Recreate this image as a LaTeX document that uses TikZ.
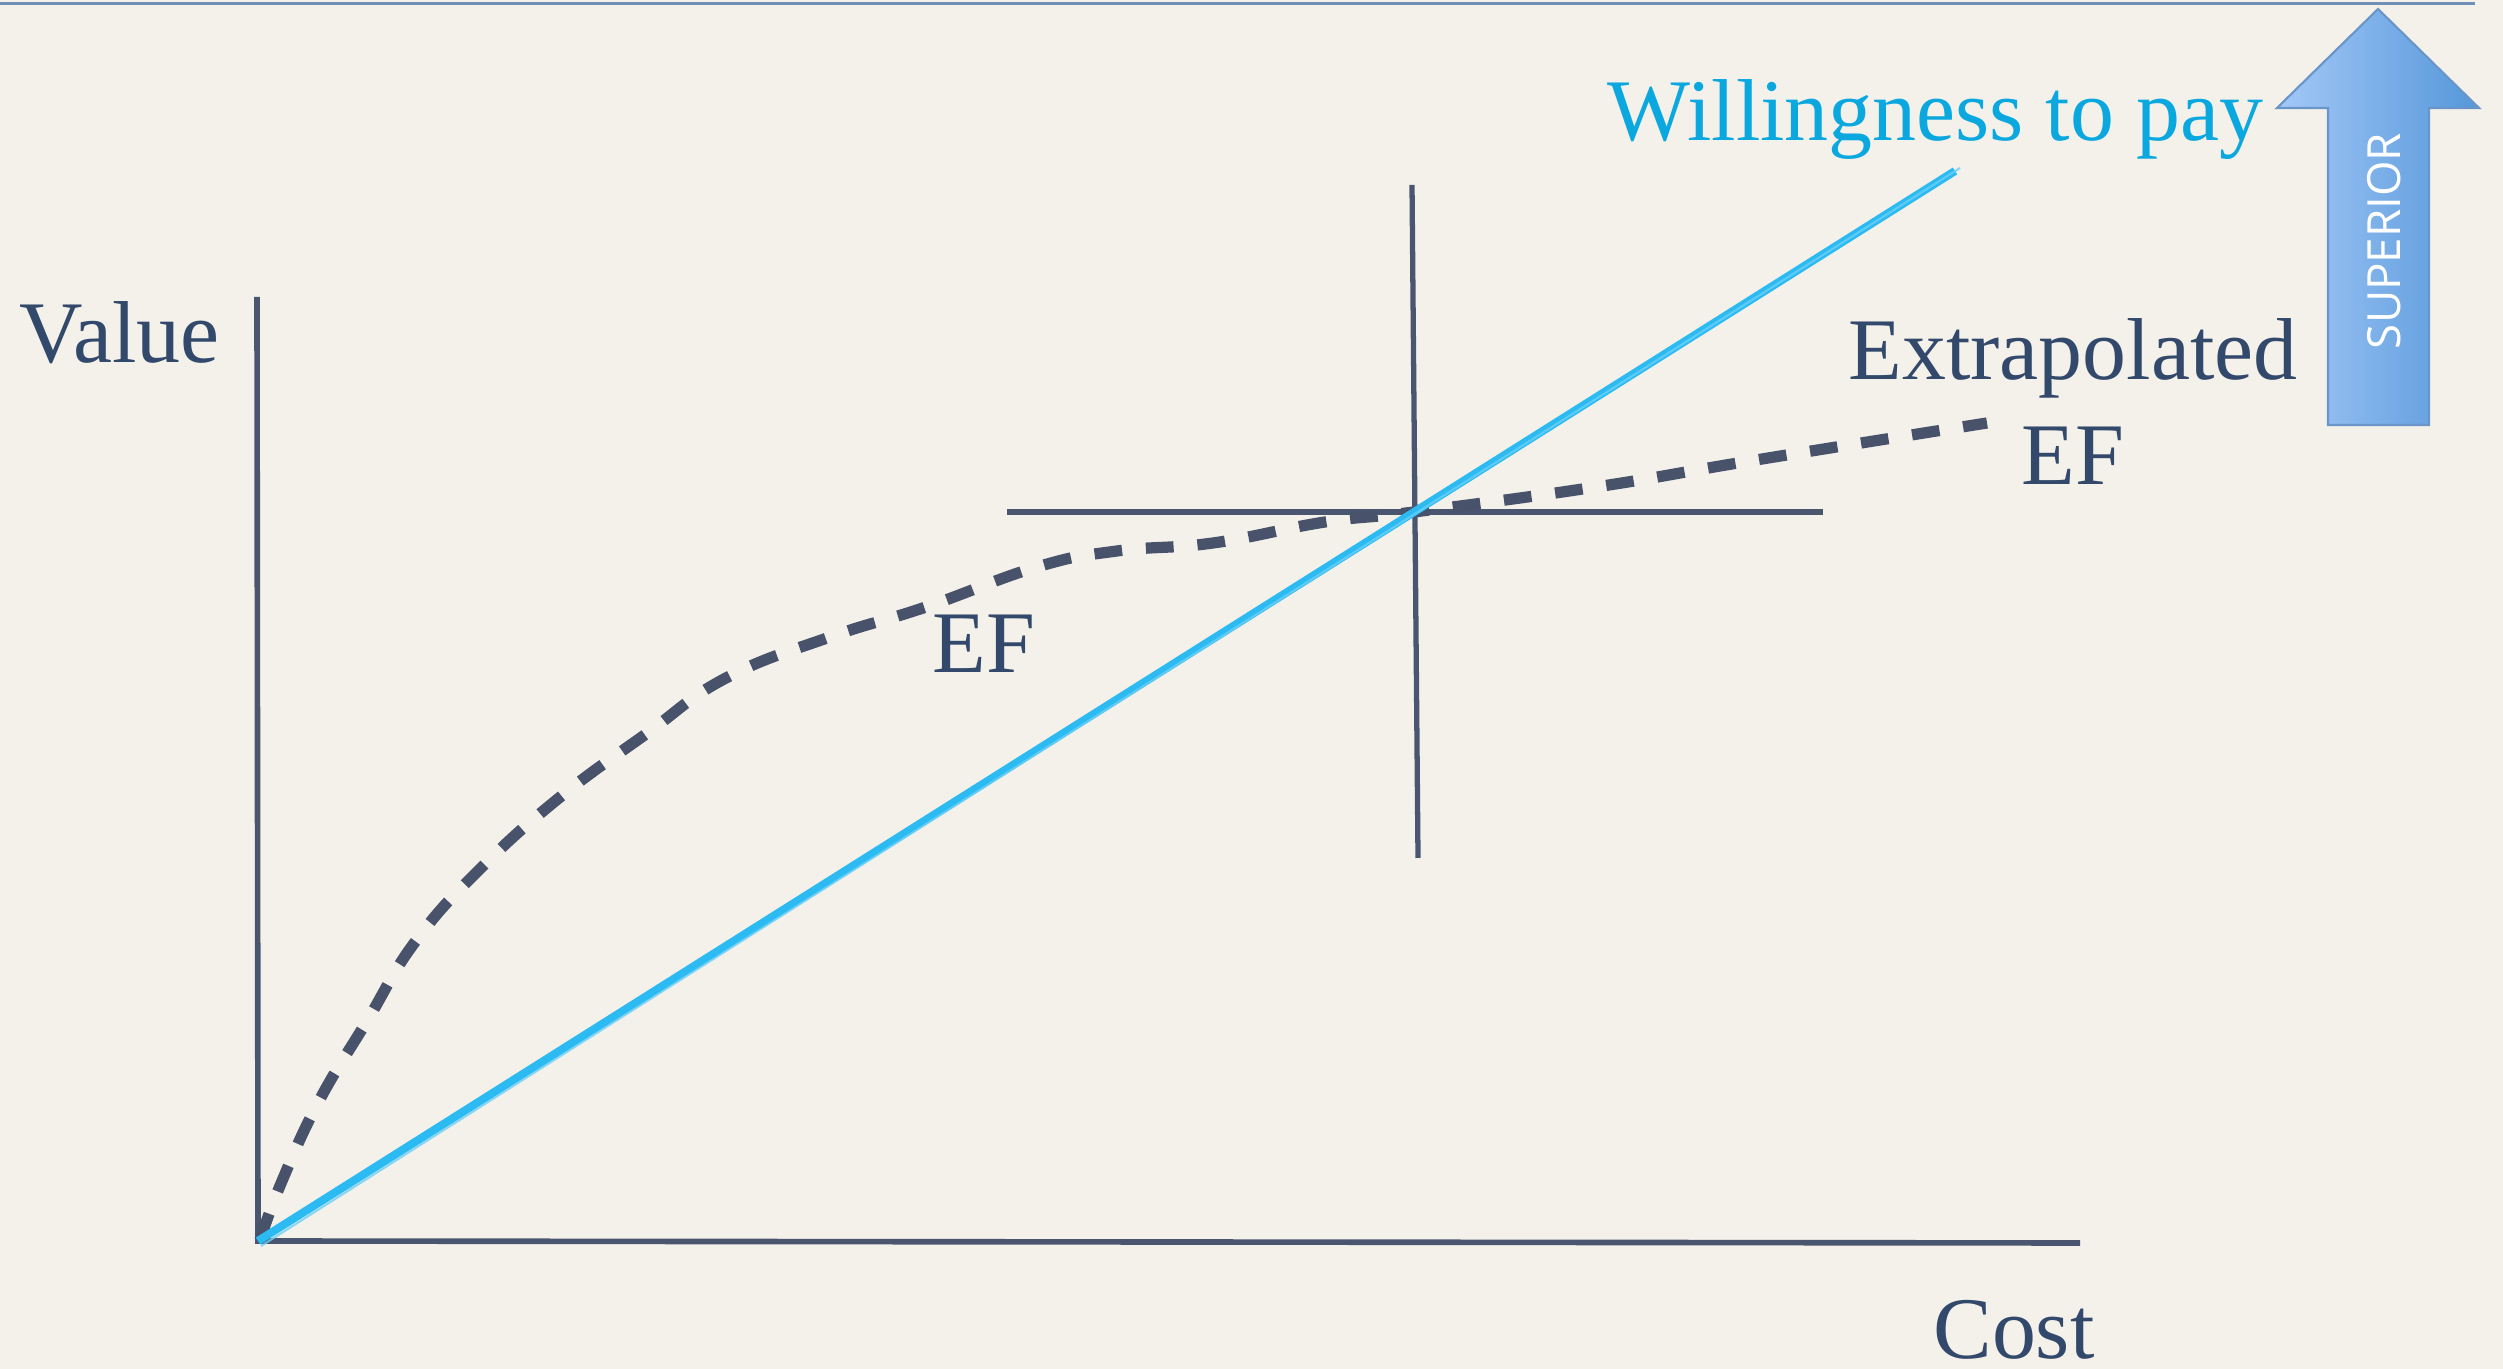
\documentclass[tikz,border=0pt]{standalone}
\usepackage{fontspec}
\setmainfont{Liberation Serif}
\newfontfamily\supfont{Open Sans}
\usetikzlibrary{calc}
\definecolor{bgc}{HTML}{F4F1EA}
\definecolor{topline}{HTML}{7090BA}
\definecolor{axisc}{HTML}{4A5670}
\definecolor{txtc}{HTML}{33496B}
\definecolor{wtpc}{HTML}{0BA8E0}
\definecolor{bluel}{HTML}{2BBBF2}
\definecolor{dashc}{HTML}{48536B}
\definecolor{arrL}{HTML}{A3C8F7}
\definecolor{arrR}{HTML}{5597DA}
\definecolor{arrO}{HTML}{6A95C8}
\tikzset{
  axisline/.style={draw=axisc, line width=1.6pt},
  crossline/.style={draw=axisc, line width=1.5pt},
  lbl/.style={text=txtc, font=\fontsize{25}{29}\selectfont, inner sep=0pt},
  efcurve/.style={draw=dashc, line width=3.2pt, dash pattern=on 7.9pt off 6.8pt},
  wtpline/.style={draw=bluel, line width=2.3pt},
}
\begin{document}
\begin{tikzpicture}
\useasboundingbox (0,0) rectangle (25.03,13.69);
\fill[bgc] (0,0) rectangle (25.03,13.69);
% top rule
\coordinate (tl) at (0,13.65);
\coordinate (tr) at (24.75,13.65);
\draw[topline, line width=0.85pt] (tl) -- (tr);
% axes
\coordinate (O) at (2.58,1.28);
\coordinate (Ytop) at (2.57,10.72);
\coordinate (Xend) at (20.80,1.26);
\draw[axisline] (Ytop) -- (O) -- (Xend);
% crosshair
\coordinate (cvT) at (14.12,11.84);
\coordinate (cvB) at (14.18,5.11);
\coordinate (chL) at (10.07,8.57);
\coordinate (chR) at (18.23,8.57);
\draw[crossline] (cvT) -- (cvB);
\draw[crossline] (chL) -- (chR);
% EF dashed curve
\draw[efcurve] plot[smooth, tension=0.75] coordinates {
 (2.60,1.29) (2.82,1.88) (3.19,2.68) (3.67,3.48) (4.15,4.27) (4.79,4.99)
 (5.59,5.71) (6.46,6.35) (7.26,6.91) (8.30,7.32) (9.26,7.62) (10.37,8.02)
 (11.17,8.18) (12.13,8.26) (13.25,8.47) (14.14,8.57) (15.96,8.82)
 (17.56,9.09) (19.87,9.46)};
% willingness to pay line
\coordinate (W1) at (19.55,11.98);
\draw[wtpline] (O) -- (W1);
\draw[bluel!70, line width=0.6pt, opacity=0.8] ($(O)+(0.03,-0.05)$) -- ($(W1)+(0.05,0.03)$);
% labels
\node[lbl, anchor=base west] (val) at (0.19,10.06) {Value};
\node[lbl, anchor=base west, text=wtpc] (wtp) at (16.07,12.28) {Willingness to pay};
\node[lbl, anchor=base] (extra) at (20.73,9.89) {Extrapolated};
\node[lbl, anchor=base] (ef2) at (20.73,8.84) {EF};
\node[lbl, anchor=base] (ef1) at (9.84,6.96) {EF};
\node[lbl, anchor=base] (cost) at (20.14,0.10) {Cost};
% superior arrow
\shade[left color=arrL, right color=arrR, draw=arrO, line width=0.6pt]
  (23.78,13.60) -- (24.79,12.61) -- (24.29,12.61) -- (24.29,9.44)
  -- (23.28,9.44) -- (23.28,12.61) -- (22.77,12.61) -- cycle;
\node[rotate=90, text=white, font=\supfont\fontsize{13}{15}\selectfont, inner sep=0pt] (sup) at (23.84,11.28) {SUPERIOR};
\end{tikzpicture}
\end{document}
